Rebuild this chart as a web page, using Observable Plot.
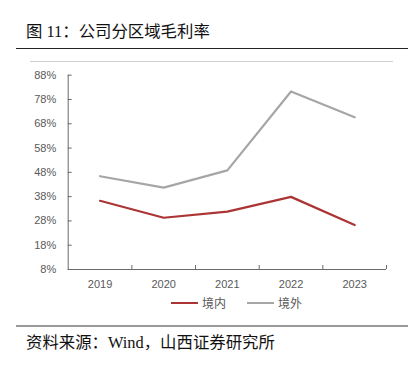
<!DOCTYPE html>
<html><head><meta charset="utf-8">
<script src="https://cdn.jsdelivr.net/npm/d3@7"></script>
<script src="https://cdn.jsdelivr.net/npm/@observablehq/plot@0.6"></script>
<style>
body{margin:0;background:#fff;}
#wrap{position:relative;width:418px;height:365px;overflow:hidden;background:#fff;}
.abs{position:absolute;}
#title{left:26px;top:22px;font:16.4px "Liberation Serif","Noto Sans CJK SC",serif;color:#111;white-space:nowrap;line-height:20px;}
#caption{left:26px;top:333px;font:16.4px "Liberation Serif","Noto Sans CJK SC",serif;color:#111;white-space:nowrap;line-height:20px;}
#legend{left:0;top:294px;width:418px;font:12px "Noto Sans CJK SC","Liberation Sans",sans-serif;color:#595959;}
.lg{position:absolute;top:0;display:flex;align-items:center;height:17px;white-space:nowrap;}
.sw{display:inline-block;width:27px;height:2px;margin-right:4px;}
#chart{left:0;top:50px;}
</style></head>
<body><div id="wrap">
<div id="title" class="abs">图 11：公司分区域毛利率</div>
<div class="abs" style="left:16px;top:48px;width:392px;height:1px;background:#222;"></div>
<div class="abs" style="left:30px;top:61px;width:363px;height:1px;background:#d0d0d0;"></div>
<div id="chart" class="abs"></div>
<div id="legend" class="abs"></div>
<div class="abs" style="left:16px;top:325px;width:392px;height:2px;background:#9a9a9a;"></div>
<div id="caption" class="abs">资料来源：Wind，山西证券研究所</div>
</div>
<script>
const years = [2019, 2020, 2021, 2022, 2023];
const domestic = [36.3, 29.3, 31.8, 37.9, 26.3];
const overseas = [46.4, 41.7, 48.8, 81.3, 70.7];
const yTicks = [8, 18, 28, 38, 48, 58, 68, 78, 88];
const seriesNames = ["境内", "境外"];
const seriesColors = ["#ab3535", "#a6a6a6"];

const bounds = years.map(y => y + 0.5);
const rows = [];
years.forEach((y, i) => {
  rows.push({year: y, value: domestic[i], s: seriesNames[0]});
  rows.push({year: y, value: overseas[i], s: seriesNames[1]});
});

const plot = Plot.plot({
  width: 418,
  height: 240,
  marginLeft: 67.7,
  marginRight: 32,
  marginTop: 24.7,
  marginBottom: 21,
  style: {fontFamily: "Liberation Sans, sans-serif", fontSize: "11px", color: "#595959", background: "transparent"},
  x: {domain: [years[0] - 0.5, years[years.length - 1] + 0.5]},
  y: {domain: [yTicks[0], yTicks[yTicks.length - 1]]},
  color: {domain: seriesNames, range: seriesColors},
  marks: [
    Plot.axisY({ticks: yTicks, tickSize: 0, tickPadding: 12, tickFormat: d => d + "%", label: null, fill: "#595959"}),
    Plot.axisY({ticks: yTicks, tickSize: -4, tickFormat: () => "", label: null, stroke: "#6b6b6b"}),
    Plot.axisX({ticks: years, tickSize: 0, tickPadding: 11, tickFormat: d => String(d), label: null, fill: "#595959"}),
    Plot.axisX({ticks: bounds, tickSize: -4, tickFormat: () => "", label: null, stroke: "#6b6b6b"}),
    Plot.ruleY([yTicks[0]], {stroke: "#6b6b6b"}),
    Plot.ruleX([years[0] - 0.5], {stroke: "#6b6b6b"}),
    Plot.line(rows, {x: "year", y: "value", z: "s", stroke: "s", strokeWidth: 2.2})
  ]
});
document.getElementById("chart").appendChild(plot);

const lg = document.getElementById("legend");
const lx = [171, 247];
seriesNames.forEach((n, i) => {
  const d = document.createElement("div");
  d.className = "lg";
  d.style.left = lx[i] + "px";
  d.innerHTML = `<span class="sw" style="background:${seriesColors[i]}"></span>${n}`;
  lg.appendChild(d);
});
</script>
</body></html>
